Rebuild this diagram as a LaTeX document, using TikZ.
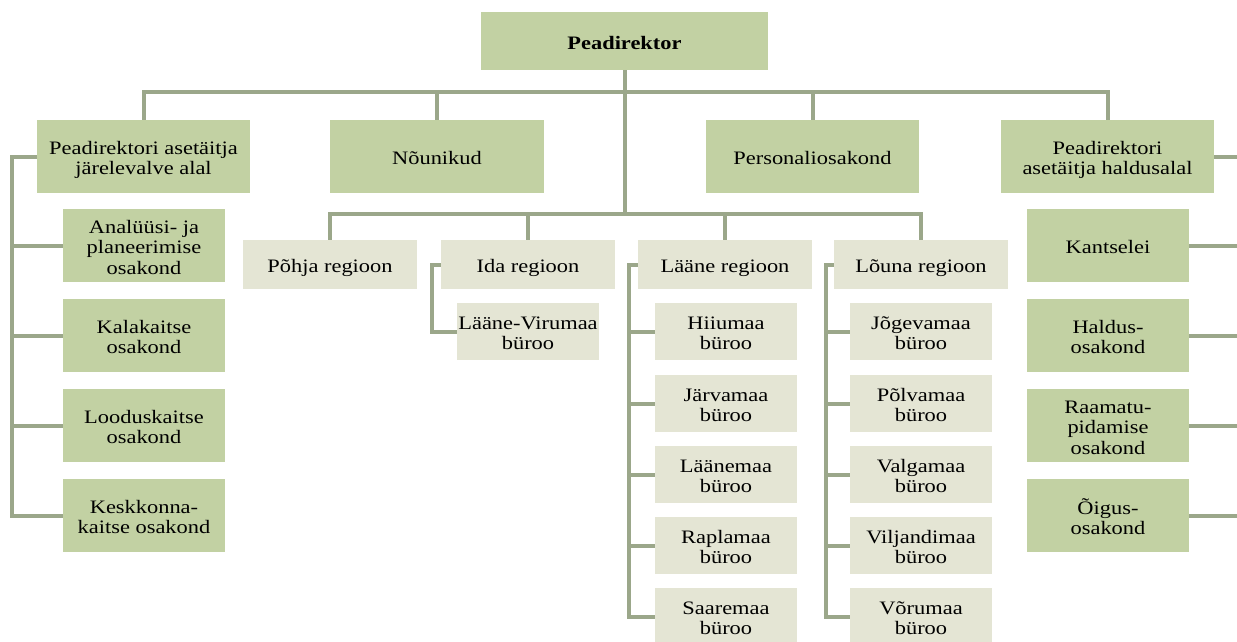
\documentclass[tikz,border=0pt]{standalone}
\usepackage{fontspec}
\setmainfont{Liberation Serif}[FakeStretch=1.18]
\definecolor{dg}{HTML}{C2D1A3}
\definecolor{lg}{HTML}{E4E5D4}
\definecolor{lc}{HTML}{9BA78A}
\newcommand\bx[1]{\raisebox{-4pt}[\height][\depth]{\begin{tabular}{@{}c@{}}#1\end{tabular}}}
\begin{document}
\begin{tikzpicture}[x=1pt,y=-1pt,
  box/.style={inner sep=0pt,font=\fontsize{19}{20.5}\selectfont,text=black},
  dbox/.style={box,fill=dg},
  lbox/.style={box,fill=lg},
  conn/.style={draw=lc,line width=4pt}]
\useasboundingbox[fill=white] (0,0) rectangle (1237,642);
% nodes
\node[dbox,minimum width=287pt,minimum height=58pt,font=\fontsize{19}{20.5}\selectfont\bfseries] (pd) at (624.5,41) {\bx{Peadirektor}};
\node[dbox,minimum width=213pt,minimum height=73pt] (a1) at (143.5,156.5) {\bx{Peadirektori asetäitja\\järelevalve alal}};
\node[dbox,minimum width=214pt,minimum height=73pt] (a2) at (437,156.5) {\bx{Nõunikud}};
\node[dbox,minimum width=213pt,minimum height=73pt] (a3) at (812.5,156.5) {\bx{Personaliosakond}};
\node[dbox,minimum width=213pt,minimum height=73pt] (a4) at (1107.5,156.5) {\bx{Peadirektori\\asetäitja haldusalal}};
% left children
\node[dbox,minimum width=162pt,minimum height=73pt] (k1) at (144,245.5) {\bx{Analüüsi- ja\\planeerimise\\osakond}};
\node[dbox,minimum width=162pt,minimum height=73pt] (k2) at (144,335.5) {\bx{Kalakaitse\\osakond}};
\node[dbox,minimum width=162pt,minimum height=73pt] (k3) at (144,425.5) {\bx{Looduskaitse\\osakond}};
\node[dbox,minimum width=162pt,minimum height=73pt] (k4) at (144,515.5) {\bx{Keskkonna-\\kaitse osakond}};
% right children
\node[dbox,minimum width=162pt,minimum height=73pt] (h1) at (1108,245.5) {\bx{Kantselei}};
\node[dbox,minimum width=162pt,minimum height=73pt] (h2) at (1108,335.5) {\bx{Haldus-\\osakond}};
\node[dbox,minimum width=162pt,minimum height=73pt] (h3) at (1108,425.5) {\bx{Raamatu-\\pidamise\\osakond}};
\node[dbox,minimum width=162pt,minimum height=73pt] (h4) at (1108,515.5) {\bx{Õigus-\\osakond}};
% regions
\node[lbox,minimum width=174pt,minimum height=49pt] (r1) at (330,264.5) {\bx{Põhja regioon}};
\node[lbox,minimum width=174pt,minimum height=49pt] (r2) at (528,264.5) {\bx{Ida regioon}};
\node[lbox,minimum width=174pt,minimum height=49pt] (r3) at (725,264.5) {\bx{Lääne regioon}};
\node[lbox,minimum width=174pt,minimum height=49pt] (r4) at (921,264.5) {\bx{Lõuna regioon}};
% offices
\node[lbox,minimum width=142pt,minimum height=57pt] (i1) at (528,331.5) {\bx{Lääne-Virumaa\\büroo}};
\node[lbox,minimum width=142pt,minimum height=57pt] (l1) at (726,331.5) {\bx{Hiiumaa\\büroo}};
\node[lbox,minimum width=142pt,minimum height=57pt] (l2) at (726,403.5) {\bx{Järvamaa\\büroo}};
\node[lbox,minimum width=142pt,minimum height=57pt] (l3) at (726,474.5) {\bx{Läänemaa\\büroo}};
\node[lbox,minimum width=142pt,minimum height=57pt] (l4) at (726,545.5) {\bx{Raplamaa\\büroo}};
\node[lbox,minimum width=142pt,minimum height=57pt] (l5) at (726,616.5) {\bx{Saaremaa\\büroo}};
\node[lbox,minimum width=142pt,minimum height=57pt] (s1) at (921,331.5) {\bx{Jõgevamaa\\büroo}};
\node[lbox,minimum width=142pt,minimum height=57pt] (s2) at (921,403.5) {\bx{Põlvamaa\\büroo}};
\node[lbox,minimum width=142pt,minimum height=57pt] (s3) at (921,474.5) {\bx{Valgamaa\\büroo}};
\node[lbox,minimum width=142pt,minimum height=57pt] (s4) at (921,545.5) {\bx{Viljandimaa\\büroo}};
\node[lbox,minimum width=142pt,minimum height=57pt] (s5) at (921,616.5) {\bx{Võrumaa\\büroo}};
% coordinates
\coordinate (tb) at (624.5,92);
\coordinate (rb) at (624.5,214);
\coordinate (lv) at (12,0);
\coordinate (rv) at (1241,0);
\coordinate (iv) at (432,0);
\coordinate (lav) at (629,0);
\coordinate (lov) at (826,0);
% connectors
\draw[conn] (pd.south) -- (rb);
\draw[conn] (a1.north) |- (tb) -| (a4.north);
\draw[conn] (a2.north) -- (a2.north |- tb);
\draw[conn] (a3.north) -- (a3.north |- tb);
\draw[conn] (r1.north) |- (rb) -| (r4.north);
\draw[conn] (r2.north) -- (r2.north |- rb);
\draw[conn] (r3.north) -- (r3.north |- rb);
\draw[conn] (a1.west) -- (a1.west -| lv) |- (k4.west);
\foreach \n in {k1,k2,k3} \draw[conn] (\n.west) -- (\n.west -| lv);
\draw[conn] (a4.east) -- (a4.east -| rv) |- (h4.east);
\foreach \n in {h1,h2,h3} \draw[conn] (\n.east) -- (\n.east -| rv);
\draw[conn] (r2.west) -- (r2.west -| iv) |- (i1.west);
\draw[conn] (r3.west) -- (r3.west -| lav) |- (l5.west);
\foreach \n in {l1,l2,l3,l4} \draw[conn] (\n.west) -- (\n.west -| lav);
\draw[conn] (r4.west) -- (r4.west -| lov) |- (s5.west);
\foreach \n in {s1,s2,s3,s4} \draw[conn] (\n.west) -- (\n.west -| lov);
\end{tikzpicture}
\end{document}
